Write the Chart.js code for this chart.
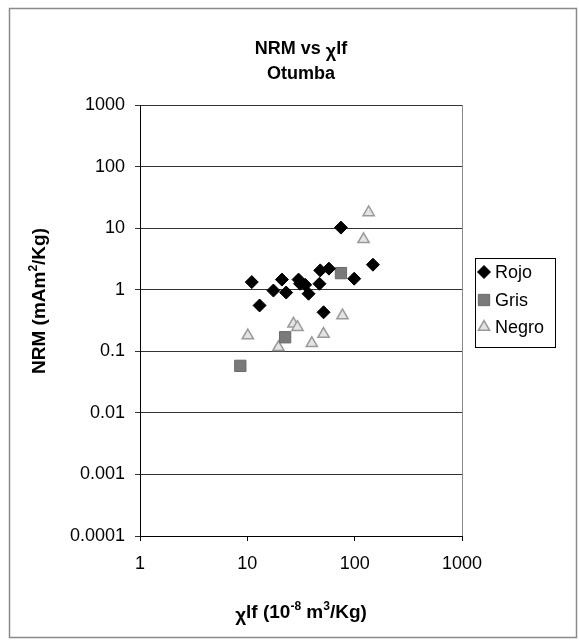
<!DOCTYPE html>
<html>
<head>
<meta charset="utf-8">
<script src="https://cdn.jsdelivr.net/npm/chart.js@4"></script>
<style>
  html, body { margin: 0; padding: 0; background: #fff; }
  #wrap { width: 579px; height: 642px; }
</style>
</head>
<body>
<div id="wrap"><canvas id="myChart" width="579" height="642"></canvas></div>
<script>
// values
const rojoX = [11.0, 13.0, 17.5, 21.0, 23.0, 30, 31, 34.6, 37.2, 47, 47.8, 51.3, 57.6, 74.5, 99, 148];
const rojoY = [1.33, 0.555, 0.97, 1.46, 0.90, 1.46, 1.25, 1.2, 0.86, 1.25, 2.06, 0.43, 2.2, 10.2, 1.51, 2.55];
const grisX = [8.6, 22.5, 74.5];
const grisY = [0.058, 0.169, 1.86];
const negroX = [10.1, 19.5, 26.9, 29.3, 39.9, 51.3, 77, 121, 135];
const negroY = [0.18, 0.116, 0.28, 0.246, 0.135, 0.19, 0.38, 6.6, 18];

const xTicks = [1, 10, 100, 1000];
const xTickLabels = ["1", "10", "100", "1000"];
const yTicks = [0.0001, 0.001, 0.01, 0.1, 1, 10, 100, 1000];
const yTickLabels = ["0.0001", "0.001", "0.01", "0.1", "1", "10", "100", "1000"];

const seriesNames = ["Rojo", "Gris", "Negro"];

const FONT = "'Liberation Sans', Arial, sans-serif";

function toPoints(xs, ys) {
  return xs.map((x, i) => ({ x: x, y: ys[i] }));
}

// draws text pieces (some raised or lowered) centred on cx
function drawRich(ctx, parts, cx, y) {
  let total = 0;
  parts.forEach(p => {
    ctx.font = p.font;
    p.w = ctx.measureText(p.t).width;
    total += p.w;
  });
  let x = cx - total / 2;
  ctx.textAlign = "left";
  ctx.textBaseline = "alphabetic";
  parts.forEach(p => {
    ctx.font = p.font;
    ctx.fillText(p.t, x, y + (p.dy || 0));
    x += p.w;
  });
}

const decorations = {
  id: "decorations",
  afterDraw(chart) {
    const ctx = chart.ctx;
    const area = chart.chartArea;
    const B18 = "bold 18px " + FONT;
    const B19 = "bold 19px " + FONT;
    const SUP = "bold 12px " + FONT;
    ctx.save();
    // outer frame
    ctx.strokeStyle = "#8a8a8a";
    ctx.lineWidth = 1.5;
    ctx.strokeRect(9.5, 8.5, 567, 629);
    // right side of plot area
    ctx.strokeStyle = "#888";
    ctx.lineWidth = 1;
    ctx.beginPath();
    ctx.moveTo(Math.round(area.right) + 0.5, area.top);
    ctx.lineTo(Math.round(area.right) + 0.5, area.bottom);
    ctx.stroke();

    ctx.fillStyle = "#000";
    const cx = (area.left + area.right) / 2;
    // chart title
    drawRich(ctx, [
      { t: "NRM vs ", font: B18 },
      { t: "\u03c7", font: B18, dy: 3 },
      { t: "lf", font: B18 }
    ], cx, 54);
    drawRich(ctx, [{ t: "Otumba", font: B18 }], cx, 79);

    // x axis title
    drawRich(ctx, [
      { t: "\u03c7", font: B19, dy: 3 },
      { t: "lf (10", font: B19 },
      { t: "-8", font: SUP, dy: -8 },
      { t: " m", font: B19 },
      { t: "3", font: SUP, dy: -8 },
      { t: "/Kg)", font: B19 }
    ], cx, 618);

    // y axis title
    ctx.save();
    ctx.translate(45, 301);
    ctx.rotate(-Math.PI / 2);
    drawRich(ctx, [
      { t: "NRM (mAm", font: B19 },
      { t: "2", font: SUP, dy: -8 },
      { t: "/Kg)", font: B19 }
    ], 0, 0);
    ctx.restore();

    // legend
    ctx.strokeStyle = "#000";
    ctx.lineWidth = 1;
    ctx.strokeRect(475.5, 258.5, 80, 89);
    const rows = [272, 300, 327];
    chart.data.datasets.forEach((ds, i) => {
      const y = rows[i];
      ctx.fillStyle = ds.backgroundColor;
      ctx.strokeStyle = ds.borderColor;
      ctx.lineWidth = ds.borderWidth;
      Chart.helpers.drawPoint(ctx, {
        pointStyle: ds.pointStyle,
        radius: ds.pointRadius,
        borderWidth: ds.borderWidth
      }, 484, y);
      ctx.fillStyle = "#000";
      ctx.font = "18px " + FONT;
      ctx.textAlign = "left";
      ctx.textBaseline = "middle";
      ctx.fillText(ds.label, 495, y + 1);
    });
    ctx.restore();
  }
};

const config = {
  type: "scatter",
  data: {
    datasets: [
      {
        label: seriesNames[0],
        data: toPoints(rojoX, rojoY),
        pointStyle: "rectRot",
        pointRadius: 6.5,
        pointHoverRadius: 6.5,
        backgroundColor: "#000",
        borderColor: "#000",
        borderWidth: 1
      },
      {
        label: seriesNames[1],
        data: toPoints(grisX, grisY),
        pointStyle: "rect",
        pointRadius: 8,
        pointHoverRadius: 8,
        backgroundColor: "#7a7a7a",
        borderColor: "#6a6a6a",
        borderWidth: 1
      },
      {
        label: seriesNames[2],
        data: toPoints(negroX, negroY),
        pointStyle: "triangle",
        pointRadius: 6.5,
        pointHoverRadius: 6.5,
        backgroundColor: "#e4e4e4",
        borderColor: "#9a9a9a",
        borderWidth: 1.5
      }
    ]
  },
  options: {
    responsive: false,
    animation: false,
    layout: { padding: { left: 10, right: 117, top: 105, bottom: 10 } },
    plugins: {
      legend: { display: false },
      title: { display: false },
      tooltip: { enabled: false }
    },
    scales: {
      x: {
        type: "logarithmic",
        min: 1,
        max: 1000,
        afterBuildTicks: (scale) => { scale.ticks = xTicks.map(v => ({ value: v })); },
        afterFit: (scale) => { scale.height = 96; },
        ticks: {
          color: "#000",
          font: { family: FONT, size: 18 },
          padding: 12,
          maxRotation: 0,
          callback: (v) => xTickLabels[xTicks.indexOf(v)]
        },
        grid: { drawOnChartArea: false, color: "#000", tickLength: 5 },
        border: { color: "#000", width: 1 }
      },
      y: {
        type: "logarithmic",
        min: 0.0001,
        max: 1000,
        afterBuildTicks: (scale) => { scale.ticks = yTicks.map(v => ({ value: v })); },
        afterFit: (scale) => { scale.width = 130; },
        ticks: {
          color: "#000",
          font: { family: FONT, size: 18 },
          padding: 10,
          callback: (v) => yTickLabels[yTicks.findIndex(t => Math.abs(t - v) / t < 1e-6)]
        },
        grid: { color: "#333", lineWidth: 1, tickLength: 5 },
        border: { color: "#000", width: 1 }
      }
    }
  },
  plugins: [decorations]
};

const myChart = new Chart(document.getElementById("myChart").getContext("2d"), config);
</script>
</body>
</html>
